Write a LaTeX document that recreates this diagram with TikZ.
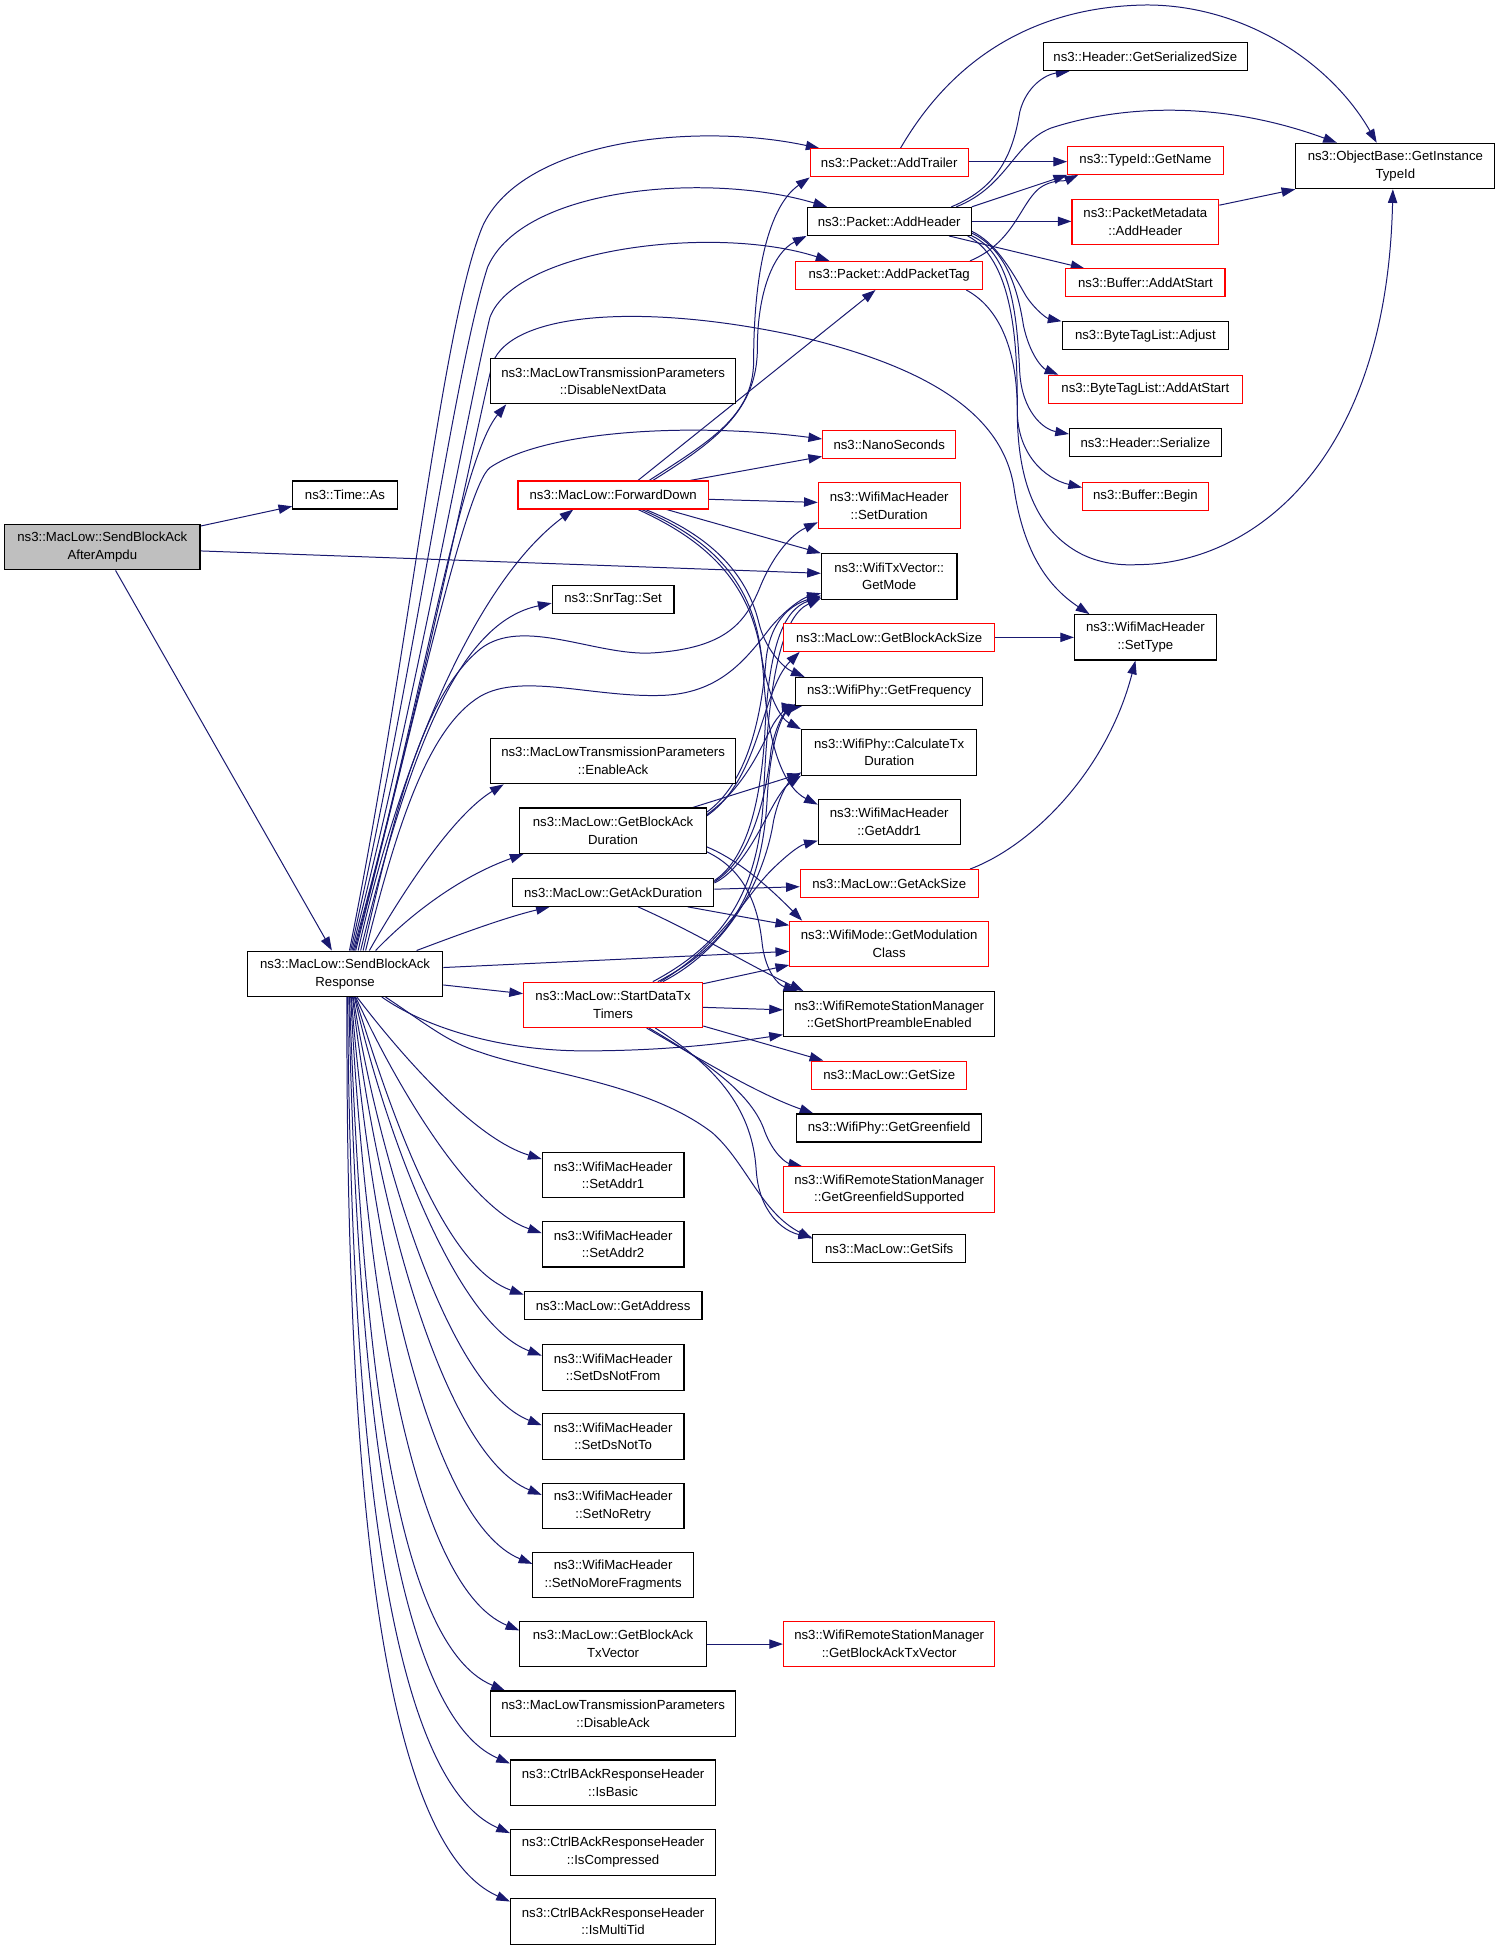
\documentclass[tikz,border=0pt]{standalone}
\usepackage{fontspec}
\setmainfont{Liberation Sans}
\usetikzlibrary{arrows.meta,backgrounds}
\definecolor{edgec}{HTML}{191970}
\definecolor{redc}{HTML}{FF0000}
\definecolor{rootc}{HTML}{BFBFBF}
\begin{document}
\begin{tikzpicture}[x=1pt,y=-1pt,
  box/.style={draw=black, fill=white, line width=0.9pt, inner sep=0pt, align=center, font=\fontsize{10.6}{14.2}\selectfont},
  rbox/.style={box, draw=redc},
  bw/.style={minimum width=#1pt},
  h1/.style={minimum height=22.5pt},
  h2/.style={minimum height=36.5pt},
  e/.style={draw=edgec, line width=0.8pt, -{Triangle[length=11pt,width=7.5pt]}}]
\useasboundingbox (0,0) rectangle (1207,1568);
% ---------- nodes ----------
\node[box,bw=157,h2,fill=rootc] (A) at (82.3,440) {ns3::MacLow::SendBlockAck\\AfterAmpdu};
\node[box,bw=84,h1] (timeAs) at (277.4,398) {ns3::Time::As};
\node[box,bw=157,h2] (sbar) at (277.5,783) {ns3::MacLow::SendBlockAck\\Response};
\node[box,bw=197,h2] (dnd) at (493,306.5) {ns3::MacLowTransmissionParameters\\::DisableNextData};
\node[rbox,bw=153,h1] (fd) at (493,398) {ns3::MacLow::ForwardDown};
\node[box,bw=98,h1] (snr) at (493,482) {ns3::SnrTag::Set};
\node[box,bw=197,h2] (enack) at (493,612) {ns3::MacLowTransmissionParameters\\::EnableAck};
\node[box,bw=150,h2] (gbad) at (493,668) {ns3::MacLow::GetBlockAck\\Duration};
\node[box,bw=162,h1] (gad) at (493,717.5) {ns3::MacLow::GetAckDuration};
\node[rbox,bw=144,h2] (sdtt) at (493,808) {ns3::MacLow::StartDataTx\\Timers};
\node[box,bw=114,h2] (setaddr1) at (493,945) {ns3::WifiMacHeader\\::SetAddr1};
\node[box,bw=114,h2] (setaddr2) at (493,1000.5) {ns3::WifiMacHeader\\::SetAddr2};
\node[box,bw=143,h1] (getaddr) at (493,1050) {ns3::MacLow::GetAddress};
\node[box,bw=114,h2] (dsnf) at (493,1099.5) {ns3::WifiMacHeader\\::SetDsNotFrom};
\node[box,bw=114,h2] (dsnt) at (493,1155) {ns3::WifiMacHeader\\::SetDsNotTo};
\node[box,bw=114,h2] (noretry) at (493,1211) {ns3::WifiMacHeader\\::SetNoRetry};
\node[box,bw=129,h2] (nomore) at (493,1266.5) {ns3::WifiMacHeader\\::SetNoMoreFragments};
\node[box,bw=150,h2] (gbatxv) at (493,1322) {ns3::MacLow::GetBlockAck\\TxVector};
\node[box,bw=197,h2] (disack) at (493,1378) {ns3::MacLowTransmissionParameters\\::DisableAck};
\node[box,bw=165,h2] (isbasic) at (493,1433.5) {ns3::CtrlBAckResponseHeader\\::IsBasic};
\node[box,bw=165,h2] (iscomp) at (493,1489.5) {ns3::CtrlBAckResponseHeader\\::IsCompressed};
\node[box,bw=165,h2] (ismulti) at (493,1545) {ns3::CtrlBAckResponseHeader\\::IsMultiTid};
%
\node[rbox,bw=127,h1] (addtrailer) at (715,131) {ns3::Packet::AddTrailer};
\node[box,bw=132,h1] (addheader) at (715,178) {ns3::Packet::AddHeader};
\node[rbox,bw=150,h1] (addptag) at (715,221.5) {ns3::Packet::AddPacketTag};
\node[rbox,bw=107,h1] (nano) at (715,357.5) {ns3::NanoSeconds};
\node[rbox,bw=114,h2] (setdur) at (715,406.5) {ns3::WifiMacHeader\\::SetDuration};
\node[box,bw=109,h2] (getmode) at (715,463.5) {ns3::WifiTxVector::\\GetMode};
\node[rbox,bw=170,h1] (gbasize) at (715,512.5) {ns3::MacLow::GetBlockAckSize};
\node[box,bw=150,h1] (getfreq) at (715,556) {ns3::WifiPhy::GetFrequency};
\node[box,bw=141,h2] (calctx) at (715,605) {ns3::WifiPhy::CalculateTx\\Duration};
\node[box,bw=114,h2] (getaddr1) at (715,661) {ns3::WifiMacHeader\\::GetAddr1};
\node[rbox,bw=143,h1] (getacksize) at (715,710.5) {ns3::MacLow::GetAckSize};
\node[rbox,bw=160,h2] (gmodclass) at (715,759) {ns3::WifiMode::GetModulation\\Class};
\node[box,bw=170,h2] (gspe) at (715,815.5) {ns3::WifiRemoteStationManager\\::GetShortPreambleEnabled};
\node[rbox,bw=125,h1] (getsize) at (715,864.5) {ns3::MacLow::GetSize};
\node[box,bw=149,h1] (greenf) at (715,907) {ns3::WifiPhy::GetGreenfield};
\node[rbox,bw=170,h2] (ggs) at (715,956.5) {ns3::WifiRemoteStationManager\\::GetGreenfieldSupported};
\node[box,bw=123,h1] (getsifs) at (715,1004) {ns3::MacLow::GetSifs};
\node[rbox,bw=170,h2] (gbatxv2) at (715,1322) {ns3::WifiRemoteStationManager\\::GetBlockAckTxVector};
%
\node[box,bw=164,h1] (gsersize) at (921,45.5) {ns3::Header::GetSerializedSize};
\node[rbox,bw=125,h1] (getname) at (921,129) {ns3::TypeId::GetName};
\node[rbox,bw=118,h2] (pmaddh) at (921,178.5) {ns3::PacketMetadata\\::AddHeader};
\node[rbox,bw=128,h1] (bufaddstart) at (921,227.5) {ns3::Buffer::AddAtStart};
\node[box,bw=134,h1] (btladjust) at (921,270) {ns3::ByteTagList::Adjust};
\node[rbox,bw=156,h1] (btladdstart) at (921,313) {ns3::ByteTagList::AddAtStart};
\node[box,bw=122,h1] (hserialize) at (921,356) {ns3::Header::Serialize};
\node[rbox,bw=101,h1] (bufbegin) at (921,399) {ns3::Buffer::Begin};
\node[box,bw=114,h2] (settype) at (921,512.5) {ns3::WifiMacHeader\\::SetType};
\node[box,bw=160,h2] (gitid) at (1122,133.5) {ns3::ObjectBase::GetInstance\\TypeId};
% ---------- edges ----------
\begin{scope}[on background layer]
\fill[white] (0,0) rectangle (1207,1568);
% root
\draw[e] (A) -- (timeAs);
\draw[e] (A.east |- 0,443) -- (getmode.west |- 0,461);
\draw[e] (A) -- (sbar);
% sbar upward
\draw[e] (sbar.north -| 281,0) .. controls (330,520) and (355,262) .. (388,182) .. controls (420,112) and (560,98) .. (addtrailer.north -| 659,0);
\draw[e] (sbar.north -| 282,0) .. controls (335,530) and (365,300) .. (392,215) .. controls (420,150) and (570,138) .. (addheader.north -| 665,0);
\draw[e] (sbar.north -| 283,0) .. controls (335,560) and (378,320) .. (394,255) .. controls (415,200) and (575,180) .. (addptag.north -| 667,0);
\draw[e] (sbar.north -| 284,0) .. controls (338,570) and (382,350) .. (396,292) .. controls (412,250) and (520,244) .. (640,270) .. controls (760,298) and (806,340) .. (815,390) .. controls (822,440) and (840,470) .. (settype.north -| 876,0);
\draw[e] (sbar.north -| 285,0) .. controls (340,560) and (370,370) .. (dnd.south -| 407,0);
\draw[e] (sbar.north -| 286,0) .. controls (335,570) and (375,390) .. (394,376) .. controls (440,345) and (560,340) .. (nano.west |- 0,353);
\draw[e] (sbar.north -| 288,0) .. controls (320,620) and (380,470) .. (fd.south -| 461,0);
\draw[e] (sbar.north -| 290,0) .. controls (330,600) and (370,500) .. (snr.west |- 0,485);
\draw[e] (sbar.north -| 292,0) .. controls (318,650) and (340,560) .. (386,522) .. controls (420,495) and (480,528) .. (525,525) .. controls (585,521) and (600,500) .. (612,470) .. controls (625,440) and (640,428) .. (setdur.west |- 0,420);
\draw[e] (sbar.north -| 294,0) .. controls (320,660) and (345,585) .. (386,560) .. controls (420,540) and (480,562) .. (536,559) .. controls (580,556) and (600,530) .. (620,504) .. controls (632,490) and (645,481) .. (getmode.west |- 0,477);
\draw[e] (sbar.north -| 297,0) .. controls (325,715) and (365,655) .. (enack.south -| 405,0);
\draw[e] (sbar.north -| 302,0) .. controls (335,730) and (375,703) .. (gbad.south -| 421,0);
\draw[e] (sbar.north -| 335,0) .. controls (365,753) and (405,738) .. (gad.south -| 442,0);
% sbar right
\draw[e] (sbar.east |- 0,778) -- (gmodclass.west |- 0,765);
\draw[e] (sbar.east |- 0,792) -- (sdtt.west |- 0,799);
\draw[e] (sbar.south -| 307,0) .. controls (340,825) and (400,845) .. (470,845) .. controls (540,845) and (590,838) .. (gspe.west |- 0,832);
\draw[e] (sbar.south -| 310,0) .. controls (345,825) and (360,838) .. (386,846) .. controls (430,862) and (520,870) .. (573,911) .. controls (600,935) and (612,975) .. (getsifs.west |- 0,996);
% sbar downward fan
\draw[e] (sbar.south -| 287,0) .. controls (320,845) and (380,915) .. (setaddr1.west |- 0,932);
\draw[e] (sbar.south -| 286,0) .. controls (316,867) and (375,971) .. (setaddr2.west |- 0,991.5);
\draw[e] (sbar.south -| 285.5,0) .. controls (312,887) and (355,1018) .. (getaddr.west |- 0,1041);
\draw[e] (sbar.south -| 285,0) .. controls (309,908) and (366,1064) .. (dsnf.west |- 0,1090);
\draw[e] (sbar.south -| 284,0) .. controls (305,934) and (361,1117) .. (dsnt.west |- 0,1146);
\draw[e] (sbar.south -| 283.5,0) .. controls (301,961) and (356,1170) .. (noretry.west |- 0,1202);
\draw[e] (sbar.south -| 282.5,0) .. controls (297,990) and (344,1223) .. (nomore.west |- 0,1257.5);
\draw[e] (sbar.south -| 282,0) .. controls (293,1018) and (328,1274) .. (gbatxv.west |- 0,1311);
\draw[e] (sbar.south -| 281,0) .. controls (290,1046) and (311,1320) .. (disack.north -| 406,0);
\draw[e] (sbar.south -| 280.5,0) .. controls (286,1080) and (311,1375) .. (isbasic.west |- 0,1418);
\draw[e] (sbar.south -| 279.5,0) .. controls (282,1115) and (305,1428) .. (iscomp.west |- 0,1474);
\draw[e] (sbar.south -| 279,0) .. controls (278,1151) and (300,1480) .. (ismulti.west |- 0,1529);
% ForwardDown
\draw[e] (fd.north -| 522,0) .. controls (570,355) and (606,335) .. (606,290) .. controls (606,230) and (615,168) .. (addtrailer.south west);
\draw[e] (fd.north -| 525,0) .. controls (575,355) and (609,330) .. (609,280) .. controls (609,235) and (622,203) .. (addheader.south west);
\draw[e] (fd.north -| 513,0) -- (addptag.south -| 704,0);
\draw[e] (fd.north -| 555,0) -- (nano.west |- 0,367);
\draw[e] (fd.east |- 0,401.5) -- (setdur.west |- 0,404);
\draw[e] (fd.south -| 536,0) -- (getmode.north west);
\draw[e] (fd.south -| 519,0) .. controls (570,430) and (600,460) .. (610,500) .. controls (615,522) and (630,537) .. (getfreq.north -| 647,0);
\draw[e] (fd.south -| 516,0) .. controls (575,435) and (605,470) .. (612,525) .. controls (617,560) and (628,578) .. (calctx.north west);
\draw[e] (fd.south -| 513,0) .. controls (580,440) and (610,480) .. (614,545) .. controls (618,605) and (632,634) .. (getaddr1.west |- 0,647);
% GetBlockAckDuration
\draw[e] (gbad.east |- 0,653) .. controls (600,630) and (612,580) .. (616,530) .. controls (620,495) and (640,485) .. (getmode.west |- 0,479);
\draw[e] (gbad.east |- 0,655) .. controls (600,632) and (612,600) .. (622,582) .. controls (628,572) and (636,568) .. (getfreq.south west);
\draw[e] (gbad.north -| 557,0) -- (calctx.west |- 0,622);
\draw[e] (gbad.east |- 0,656) .. controls (612,625) and (612,555) .. (gbasize.south -| 643,0);
\draw[e] (gbad.east |- 0,681) .. controls (595,692) and (620,715) .. (gmodclass.north -| 645,0);
\draw[e] (gbad.east |- 0,685) .. controls (600,700) and (610,730) .. (613,760) .. controls (616,782) and (626,792) .. (gspe.north -| 641,0);
% GetAckDuration
\draw[e] (gad.east |- 0,708) .. controls (602,690) and (612,640) .. (615,590) .. controls (618,520) and (630,490) .. (getmode.west |- 0,480);
\draw[e] (gad.east |- 0,709) .. controls (605,690) and (616,640) .. (620,603) .. controls (624,582) and (632,570) .. (getfreq.south -| 645,0);
\draw[e] (gad.east |- 0,710) .. controls (605,695) and (620,640) .. (calctx.south west);
\draw[e] (gad.east |- 0,715) -- (getacksize.west |- 0,713);
\draw[e] (gad.south -| 553,0) -- (gmodclass.west |- 0,744);
\draw[e] (gad.south -| 513,0) .. controls (560,750) and (600,775) .. (gspe.north -| 646,0);
% StartDataTxTimers
\draw[e] (sdtt.north -| 525,0) .. controls (580,760) and (610,720) .. (614,640) .. controls (618,540) and (630,495) .. (getmode.west |- 0,481);
\draw[e] (sdtt.north -| 529,0) .. controls (585,760) and (613,720) .. (617,640) .. controls (620,592) and (630,575) .. (getfreq.west |- 0,566);
\draw[e] (sdtt.north -| 533,0) .. controls (590,760) and (616,700) .. (622,660) .. controls (627,637) and (635,628) .. (calctx.west |- 0,621);
\draw[e] (sdtt.north -| 531,0) .. controls (580,760) and (600,720) .. (620,700) .. controls (630,690) and (642,680) .. (getaddr1.west |- 0,676);
\draw[e] (sdtt.east |- 0,791) -- (gmodclass.west |- 0,776);
\draw[e] (sdtt.east |- 0,810) -- (gspe.west |- 0,812);
\draw[e] (sdtt.east |- 0,825) -- (getsize.north -| 662,0);
\draw[e] (sdtt.south -| 520,0) .. controls (560,850) and (610,880) .. (greenf.north -| 654,0);
\draw[e] (sdtt.south -| 522,0) .. controls (570,855) and (605,880) .. (615,910) .. controls (622,928) and (632,935) .. (ggs.north -| 645,0);
\draw[e] (sdtt.south -| 527,0) .. controls (580,860) and (605,895) .. (608,940) .. controls (610,975) and (630,990) .. (getsifs.west |- 0,995);
% AddTrailer
\draw[e] (addtrailer.east |- 0,130) -- (getname.west |- 0,130);
\draw[e] (addtrailer.north -| 724,0) .. controls (770,40) and (840,5) .. (922,4) .. controls (1000,4) and (1070,50) .. (gitid.north -| 1107,0);
% AddHeader
\draw[e] (addheader.north -| 765,0) .. controls (805,150) and (815,120) .. (820,90) .. controls (825,70) and (840,60) .. (gsersize.south -| 860,0);
\draw[e] (addheader.north -| 769,0) .. controls (810,150) and (815,115) .. (845,103) .. controls (900,85) and (980,80) .. (gitid.north -| 1075,0);
\draw[e] (addheader.north east) -- (getname.south west);
\draw[e] (addheader.east |- 0,178) -- (pmaddh.west |- 0,178);
\draw[e] (addheader.south -| 763,0) -- (bufaddstart.north -| 872,0);
\draw[e] (addheader.east |- 0,186) .. controls (800,195) and (812,215) .. (825,238) .. controls (833,250) and (842,256) .. (btladjust.north west);
\draw[e] (addheader.east |- 0,187.5) .. controls (808,200) and (818,230) .. (823,262) .. controls (828,285) and (838,296) .. (btladdstart.north -| 851,0);
\draw[e] (addheader.south east) .. controls (815,205) and (818,260) .. (820,300) .. controls (822,330) and (838,345) .. (hserialize.west |- 0,349);
\draw[e] (addheader.south -| 778,0) .. controls (818,210) and (818,290) .. (818,330) .. controls (818,365) and (840,385) .. (bufbegin.west |- 0,392);
% AddPacketTag
\draw[e] (addptag.north -| 780,0) .. controls (815,195) and (820,165) .. (835,152) .. controls (845,144) and (855,146) .. (getname.south -| 867,0);
\draw[e] (addptag.south -| 777,0) .. controls (808,250) and (818,290) .. (818,330) .. controls (818,390) and (835,425) .. (865,443) .. controls (880,452) and (898,455) .. (915,454) .. controls (1000,454) and (1115,380) .. (gitid.south -| 1120,0);
% others
\draw[e] (pmaddh.east |- 0,165) -- (gitid.south west);
\draw[e] (gbasize.east) -- (settype.west |- 0,512.5);
\draw[e] (getacksize.north -| 780,0) .. controls (830,680) and (890,620) .. (settype.south -| 913,0);
\draw[e] (gbatxv) -- (gbatxv2);
\end{scope}
\end{tikzpicture}
\end{document}
